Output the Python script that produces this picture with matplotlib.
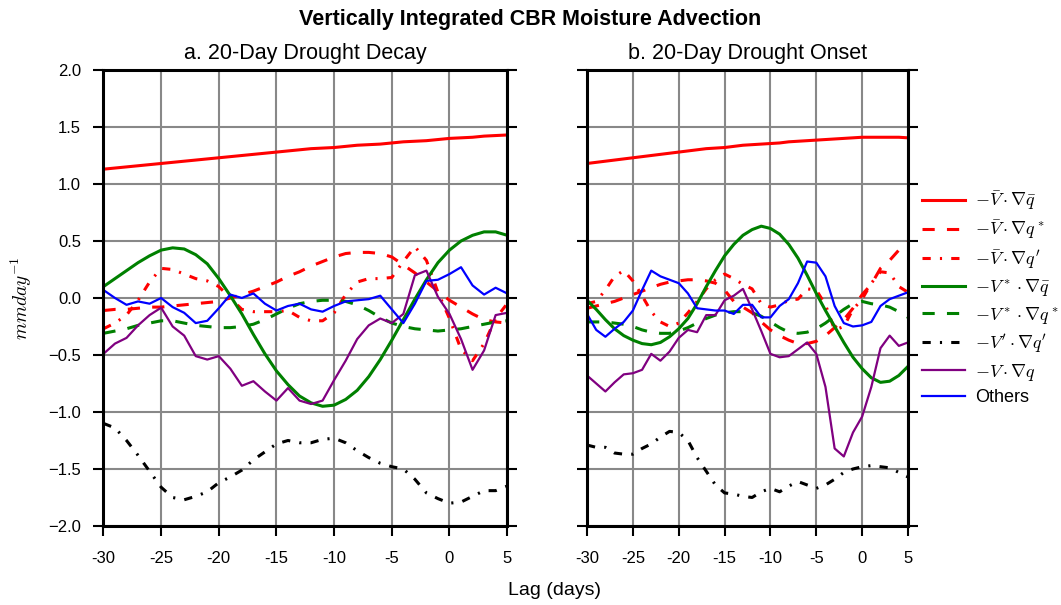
import matplotlib
matplotlib.use("Agg")
import matplotlib.pyplot as plt

plt.rcParams["font.family"] = ["Liberation Sans", "DejaVu Sans"]
plt.rcParams["mathtext.fontset"] = "cm"
plt.rcParams["axes.unicode_minus"] = True

days = list(range(-30, 6))

# a. 20-Day Drought Decay
decay_vbar_qbar = [1.13, 1.14, 1.15, 1.16, 1.17, 1.18, 1.19, 1.20, 1.21, 1.22, 1.23, 1.24,
                   1.25, 1.26, 1.27, 1.28, 1.29, 1.30, 1.31, 1.315, 1.32, 1.33, 1.34, 1.345,
                   1.35, 1.36, 1.37, 1.375, 1.38, 1.39, 1.40, 1.405, 1.41, 1.42, 1.425, 1.43]
decay_vbar_qstar = [-0.11, -0.10, -0.10, -0.09, -0.08, -0.08, -0.07, -0.06, -0.05, -0.04, -0.03, 0.0,
                    0.03, 0.06, 0.10, 0.14, 0.19, 0.23, 0.28, 0.32, 0.36, 0.39, 0.40, 0.40,
                    0.39, 0.36, 0.29, 0.22, 0.14, 0.06, -0.02, -0.08, -0.14, -0.19, -0.21, -0.22]
decay_vbar_qprime = [-0.27, -0.22, -0.15, -0.02, 0.14, 0.26, 0.25, 0.21, 0.17, 0.15, 0.10, 0.0,
                     -0.10, -0.12, -0.12, -0.12, -0.11, -0.17, -0.20, -0.20, -0.13, 0.03, 0.14, 0.17,
                     0.17, 0.18, 0.32, 0.45, 0.33, 0.05, -0.18, -0.45, -0.55, -0.40, -0.18, -0.05]
decay_vstar_qbar = [0.10, 0.17, 0.24, 0.31, 0.37, 0.42, 0.44, 0.43, 0.38, 0.30, 0.17, 0.02,
                    -0.14, -0.32, -0.49, -0.64, -0.76, -0.86, -0.92, -0.95, -0.94, -0.89, -0.81, -0.69,
                    -0.54, -0.37, -0.19, -0.01, 0.16, 0.31, 0.42, 0.50, 0.55, 0.58, 0.58, 0.55]
decay_vstar_qstar = [-0.31, -0.29, -0.27, -0.24, -0.22, -0.20, -0.20, -0.22, -0.24, -0.25, -0.26, -0.26,
                     -0.25, -0.23, -0.19, -0.14, -0.09, -0.05, -0.03, -0.02, -0.02, -0.03, -0.06, -0.11,
                     -0.17, -0.22, -0.25, -0.27, -0.28, -0.29, -0.28, -0.27, -0.25, -0.23, -0.21, -0.20]
decay_vprime_qprime = [-1.10, -1.14, -1.25, -1.38, -1.52, -1.66, -1.75, -1.77, -1.74, -1.70, -1.62, -1.57,
                       -1.51, -1.42, -1.35, -1.28, -1.25, -1.27, -1.27, -1.24, -1.23, -1.27, -1.34, -1.40,
                       -1.45, -1.48, -1.50, -1.59, -1.71, -1.76, -1.80, -1.79, -1.74, -1.69, -1.69, -1.65]
decay_total = [-0.49, -0.40, -0.35, -0.24, -0.15, -0.085, -0.25, -0.33, -0.51, -0.54, -0.51, -0.62,
               -0.77, -0.73, -0.82, -0.90, -0.79, -0.90, -0.93, -0.90, -0.72, -0.55, -0.36, -0.24,
               -0.18, -0.22, -0.14, 0.20, 0.24, 0.01, -0.14, -0.36, -0.63, -0.46, -0.15, -0.13]
decay_others = [0.07, 0.0, -0.06, -0.03, -0.05, 0.0, -0.08, -0.13, -0.22, -0.20, -0.09, 0.03,
                0.0, 0.04, -0.05, -0.11, -0.07, -0.05, -0.10, -0.12, -0.07, -0.03, -0.02, -0.01,
                0.02, -0.10, -0.22, -0.05, 0.15, 0.16, 0.21, 0.27, 0.11, 0.03, 0.09, 0.04]

# b. 20-Day Drought Onset
onset_vbar_qbar = [1.18, 1.19, 1.20, 1.21, 1.22, 1.23, 1.24, 1.25, 1.26, 1.27, 1.28, 1.29,
                   1.30, 1.31, 1.315, 1.32, 1.33, 1.34, 1.345, 1.35, 1.355, 1.36, 1.37, 1.375,
                   1.38, 1.385, 1.39, 1.395, 1.40, 1.405, 1.41, 1.41, 1.41, 1.41, 1.41, 1.405]
onset_vbar_qstar = [-0.09, -0.07, -0.05, -0.03, 0.0, 0.03, 0.06, 0.09, 0.12, 0.14, 0.15, 0.16,
                    0.16, 0.15, 0.13, 0.07, -0.03, -0.08, -0.13, -0.21, -0.28, -0.33, -0.37, -0.40,
                    -0.40, -0.38, -0.33, -0.26, -0.19, -0.09, 0.03, 0.12, 0.26, 0.33, 0.42, 0.49]
onset_vbar_qprime = [-0.05, -0.03, 0.07, 0.19, 0.24, 0.15, 0.02, -0.12, -0.21, -0.25, -0.22, -0.13,
                     -0.03, 0.08, 0.16, 0.21, 0.17, 0.12, 0.08, -0.05, -0.08, -0.06, -0.02, -0.01,
                     0.08, 0.07, -0.06, -0.28, -0.25, -0.10, -0.01, 0.13, 0.23, 0.22, 0.10, 0.05]
onset_vstar_qbar = [-0.02, -0.10, -0.19, -0.27, -0.33, -0.37, -0.40, -0.41, -0.39, -0.34, -0.27, -0.18,
                    -0.05, 0.10, 0.24, 0.37, 0.47, 0.55, 0.60, 0.63, 0.61, 0.56, 0.47, 0.35,
                    0.20, 0.04, -0.11, -0.25, -0.39, -0.52, -0.62, -0.70, -0.74, -0.73, -0.68, -0.60]
onset_vstar_qstar = [-0.21, -0.21, -0.21, -0.22, -0.23, -0.25, -0.28, -0.30, -0.31, -0.31, -0.29, -0.26,
                     -0.22, -0.18, -0.15, -0.13, -0.12, -0.12, -0.13, -0.16, -0.21, -0.26, -0.30, -0.31,
                     -0.30, -0.27, -0.22, -0.16, -0.10, -0.05, -0.03, -0.05, -0.06, -0.08, -0.12, -0.17]
onset_vprime_qprime = [-1.29, -1.31, -1.31, -1.36, -1.37, -1.37, -1.32, -1.28, -1.22, -1.17, -1.18, -1.25,
                       -1.40, -1.52, -1.64, -1.71, -1.72, -1.74, -1.75, -1.70, -1.67, -1.70, -1.65, -1.61,
                       -1.64, -1.67, -1.64, -1.59, -1.53, -1.50, -1.48, -1.47, -1.48, -1.49, -1.53, -1.57]
onset_total = [-0.68, -0.75, -0.82, -0.74, -0.67, -0.66, -0.63, -0.49, -0.55, -0.47, -0.35, -0.28,
               -0.30, -0.15, -0.15, -0.02, 0.02, 0.08, -0.10, -0.29, -0.49, -0.52, -0.51, -0.45,
               -0.39, -0.49, -0.78, -1.32, -1.39, -1.18, -1.04, -0.78, -0.44, -0.33, -0.42, -0.39]
onset_others = [-0.14, -0.28, -0.34, -0.27, -0.21, -0.11, 0.07, 0.24, 0.19, 0.16, 0.13, 0.04,
                -0.09, -0.10, -0.11, -0.11, -0.14, -0.06, -0.06, -0.17, -0.17, -0.07, -0.01, 0.13,
                0.32, 0.31, 0.19, -0.07, -0.22, -0.25, -0.24, -0.21, -0.07, -0.01, 0.02, 0.05]

labels = [r"$-\bar{V}\cdot\nabla\bar{q}$", r"$-\bar{V}\cdot\nabla q^*$",
          r"$-\bar{V}\cdot\nabla q'$", r"$-V^*\cdot\nabla\bar{q}$",
          r"$-V^*\cdot\nabla q^*$", r"$-V'\cdot\nabla q'$",
          r"$-V\cdot\nabla q$", "Others"]

dashed = (0, (4, 4))
dashdot = (0, (2.7, 3, 0.7, 3))
styles = [
    dict(color="#ff0000", ls="-", lw=2.2),
    dict(color="#ff0000", ls=dashed, lw=2.2),
    dict(color="#ff0000", ls=dashdot, lw=2.2),
    dict(color="#008000", ls="-", lw=2.2),
    dict(color="#008000", ls=dashed, lw=2.2),
    dict(color="black", ls=dashdot, lw=2.2),
    dict(color="#800080", ls="-", lw=1.6),
    dict(color="#0000ff", ls="-", lw=1.6),
]

panels = [
    ("a. 20-Day Drought Decay",
     [decay_vbar_qbar, decay_vbar_qstar, decay_vbar_qprime, decay_vstar_qbar,
      decay_vstar_qstar, decay_vprime_qprime, decay_total, decay_others]),
    ("b. 20-Day Drought Onset",
     [onset_vbar_qbar, onset_vbar_qstar, onset_vbar_qprime, onset_vstar_qbar,
      onset_vstar_qstar, onset_vprime_qprime, onset_total, onset_others]),
]

fig = plt.figure(figsize=(10.61, 6.05), dpi=100)
ax_a = fig.add_axes([0.0975, 0.1306, 0.3805, 0.7537])
ax_b = fig.add_axes([0.5533, 0.1306, 0.3025, 0.7537])

xticks = list(range(-30, 6, 5))
yticks = [-2.0, -1.5, -1.0, -0.5, 0.0, 0.5, 1.0, 1.5, 2.0]

lines = []
for ax, (title, series) in zip([ax_a, ax_b], panels):
    lines = []
    for vals, st in zip(series, styles):
        (ln,) = ax.plot(days, vals, **st)
        lines.append(ln)
    ax.set_xlim(-30, 5)
    ax.set_ylim(-2, 2)
    ax.set_xticks(xticks)
    ax.set_xticklabels([str(t) for t in xticks])
    ax.set_yticks(yticks)
    ax.grid(True, color="#888888", lw=1.5)
    ax.set_axisbelow(True)
    for sp in ax.spines.values():
        sp.set_linewidth(2.2)
    ax.tick_params(axis="both", direction="out", length=7, width=1.5,
                   labelsize=12, pad=9)
    ax.tick_params(axis="x", pad=11)
    ax.tick_params(axis="y", right=True)
    ax.set_title(title, fontsize=15.5, pad=8)

ax_b.tick_params(axis="y", labelleft=False)
ax_a.set_ylabel(r"$mm day^{-1}$", fontsize=14)
ax_a.yaxis.set_label_coords(-0.172, 0.5)

fig.suptitle("Vertically Integrated CBR Moisture Advection", fontsize=15.5,
             fontweight="bold", y=0.985)
fig.text(0.523, 0.024, "Lag (days)", ha="center", va="center", fontsize=14)

fig.legend(lines, labels, loc="center left", bbox_to_anchor=(0.869, 0.508),
           frameon=False, fontsize=13, handlelength=2.4, handletextpad=0.55,
           labelspacing=0.36, borderpad=0, borderaxespad=0)

fig.savefig("out.png", dpi=100)
